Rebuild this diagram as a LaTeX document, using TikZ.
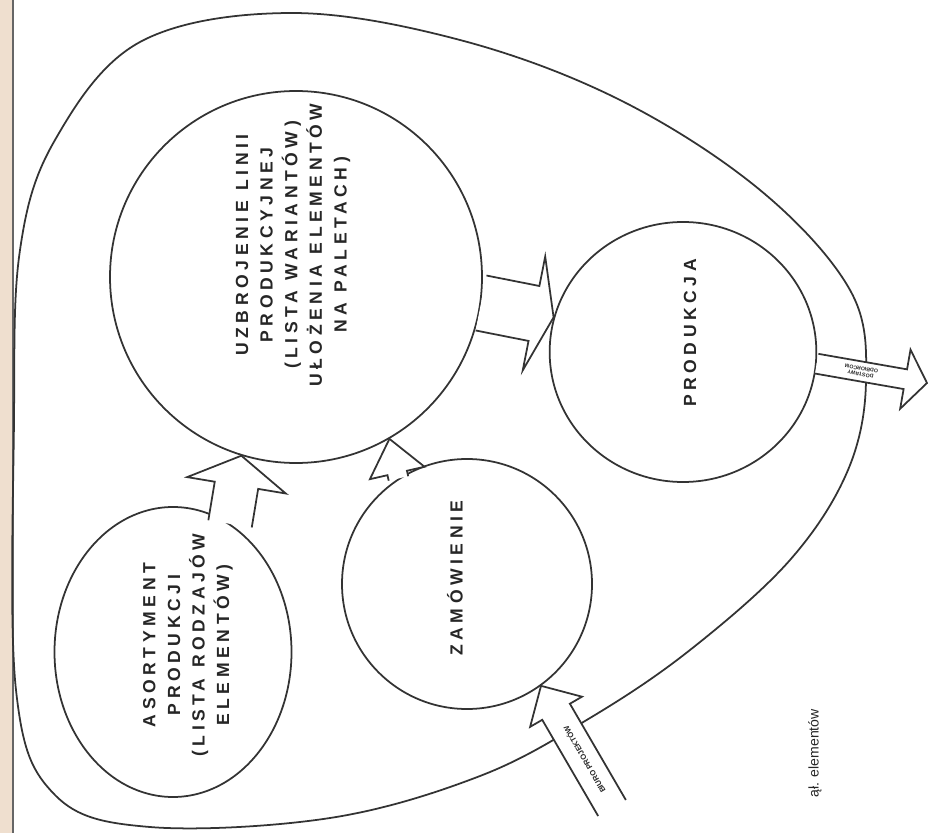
\documentclass[tikz,border=0pt]{standalone}
\usepackage{fontspec}
\setsansfont{Liberation Sans}
\newfontfamily\letterfont[LetterSpace=26]{Liberation Sans Bold}
\newcommand{\gap}{\hspace{0.6em}}
\usetikzlibrary{positioning, calc, shapes.geometric}

% hollow block arrow: tail, tip, shaft half width, head half width, head length
\newcommand{\hollowarrow}[5]{%
  \coordinate (ha) at ($(#2)!#5!(#1)$);
  \draw[arrowline] ($(#1)!#3!90:(#2)$) -- ($(ha)!#3!-90:(#1)$) -- ($(ha)!#4!-90:(#1)$)
    -- (#2) -- ($(ha)!#4!90:(#1)$) -- ($(ha)!#3!90:(#1)$) -- ($(#1)!#3!-90:(#2)$);
}

\begin{document}
\begin{tikzpicture}[x=0.3mm, y=-0.3mm,
  every node/.style={align=center, font=\letterfont\fontsize{15}{21}\selectfont, text=black!85},
  area/.style={ellipse, draw=black!80, line width=1.5pt, inner sep=0pt},
  arrowline/.style={draw=black!80, line width=1.5pt, fill=white, line join=miter},
  small/.style={font=\sffamily\bfseries\fontsize{6.5}{7}\selectfont, text=black!85, inner sep=0pt},
  tiny/.style={font=\sffamily\bfseries\fontsize{4.5}{5}\selectfont, text=black!85, inner sep=0pt}
]
\useasboundingbox (0,0) rectangle (928,833);
\fill[white] (0,0) rectangle (928,833);
\fill[brown!25] (0,0) rectangle (12,833);
\draw[black!60, line width=1pt] (13,0) -- (13,833);

% outer egg
\draw[black!80, line width=1.5pt] plot[smooth cycle, tension=0.6] coordinates {
  (14,420) (20,250) (55,140) (140,42) (290,13) (460,40) (620,100) (760,190)
  (850,290) (866,380) (848,470) (790,560) (690,650) (590,718) (480,776)
  (330,818) (150,827) (55,795) (16,690)};

% areas
\node[area, minimum width=111.6mm, minimum height=111.6mm] (uzbr) at (296,277) {};
\node[area, minimum width=71.1mm, minimum height=87mm] (asort) at (173,652) {};
\node[area, minimum width=75mm, minimum height=75mm] (zam) at (467,584) {};
\node[area, minimum width=80mm, minimum height=78mm] (prod) at (683,352) {};

\node[rotate=90] (asort-text) at (188,645) {ASORTYMENT\\PRODUKCJI\\(LISTA\gap RODZAJÓW\\ELEMENTÓW)};
\node[rotate=90] (uzbr-text) at (293,245) {UZBROJENIE\gap LINII\\PRODUKCYJNEJ\\(LISTA\gap WARIANTÓW)\\UŁOŻENIA\gap ELEMENTÓW\\NA\gap PALETACH)};
\node[rotate=90] (zam-text) at (455,578) {ZAMÓWIENIE};
\node[rotate=90] (prod-text) at (690,333) {PRODUKCJA};

% arrows between areas
\hollowarrow{asort.66}{uzbr.253}{6.6mm}{15mm}{9mm}
\hollowarrow{zam.123}{uzbr.-60}{3mm}{8.4mm}{10.5mm}
\hollowarrow{uzbr.-8}{prod.165}{8.4mm}{17.4mm}{6mm}

% input and output
\coordinate (biuro) at (612,808);
\hollowarrow{biuro}{zam.-54}{4.8mm}{9mm}{9mm}
\path (biuro) -- (ha) node[small, midway, sloped, allow upside down] (biuro-text) {BIURO PROJEKTÓW};
\coordinate (odbior) at (927,383);
\hollowarrow{prod.-5}{odbior}{3mm}{9mm}{6.6mm}
\path (ha) -- (prod.-5) node[tiny, midway, sloped, allow upside down] (odbior-text) {DOSTAWY\\ODBIORCOM};

\node[font=\sffamily\fontsize{12}{13}\selectfont, rotate=90, anchor=east] (caption) at (815,705) {ął. elementów};
\end{tikzpicture}
\end{document}
